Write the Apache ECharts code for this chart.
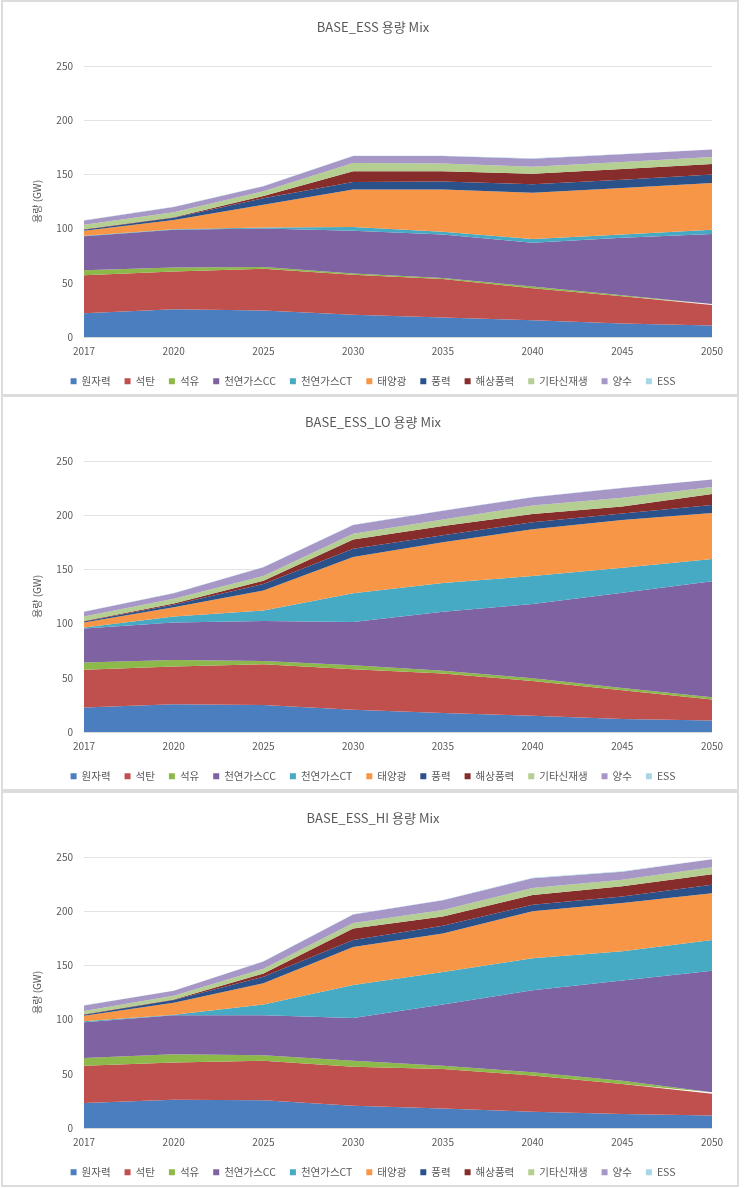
<!DOCTYPE html>
<html>
<head>
<meta charset="utf-8">
<script src="https://cdn.jsdelivr.net/npm/echarts@6/dist/echarts.min.js"></script>
<style>
  html, body { margin: 0; padding: 0; background: #ffffff; }
  body { width: 746px; height: 1188px; position: relative; overflow: hidden; }
  .frame { position: absolute; left: 1px; width: 738px; height: 396px; box-sizing: border-box; border: 2px solid #dcdcdc; }
  .chart { position: absolute; left: 0; width: 746px; height: 396px; }
</style>
</head>
<body>
<div class="frame" style="top:0px"></div>
<div class="frame" style="top:395px"></div>
<div class="frame" style="top:791px"></div>
<div id="c0" class="chart" style="top:0px"></div>
<div id="c1" class="chart" style="top:395px"></div>
<div id="c2" class="chart" style="top:791px"></div>
<script>
const years = ['2017', '2020', '2025', '2030', '2035', '2040', '2045', '2050'];
const seriesNames = ['원자력', '석탄', '석유', '천연가스CC', '천연가스CT', '태양광', '풍력', '해상풍력', '기타신재생', '양수', 'ESS'];
const titles = ['BASE_ESS 용량 Mix', 'BASE_ESS_LO 용량 Mix', 'BASE_ESS_HI 용량 Mix'];
const yTicks = [0, 50, 100, 150, 200, 250];
const colors = ['#4A7EBF', '#C0504D', '#8DB84A', '#7F62A1', '#46AAC5', '#F79646', '#2A5189', '#862C2B', '#B5CE91', '#A797C6', '#A9D6E5'];

// BASE_ESS (GW, per source)
const ess_nuclear  = [22, 25.5, 24.5, 20.5, 18, 15.5, 12.5, 10.5];
const ess_coal     = [35, 35, 38.5, 37, 35.5, 29.5, 25, 19];
const ess_oil      = [4.5, 3.5, 1.5, 1, 1, 1.5, 1, 1];
const ess_gasCC    = [31.5, 35, 35.5, 39.5, 40, 40.5, 53, 64.5];
const ess_gasCT    = [0.5, 0.5, 1, 3.5, 2.5, 3.5, 3, 4];
const ess_solar    = [4.5, 8.5, 21, 34.5, 39, 42.5, 43, 43];
const ess_wind     = [1, 2, 6, 7, 7.5, 8, 7.5, 8];
const ess_offshore = [0.5, 0.5, 2, 10, 9.5, 9.5, 10, 9.5];
const ess_otherRE  = [4, 4.5, 4.5, 7.5, 7, 6.5, 6.5, 6.5];
const ess_pumped   = [4, 5, 4.5, 6.5, 7, 7.5, 7, 7];
const ess_ess      = [0.2, 0.2, 0.3, 0.3, 0.3, 0.3, 0.3, 0.3];

// BASE_ESS_LO
const lo_nuclear  = [22.5, 25.5, 25, 20.5, 17.5, 15, 12, 10.5];
const lo_coal     = [35, 35, 37.5, 37.5, 36.5, 32, 26.5, 19.5];
const lo_oil      = [6.5, 6, 3, 3.5, 2.5, 2.5, 2, 2];
const lo_gasCC    = [31.5, 34.5, 37, 40, 54.5, 68.5, 88, 107];
const lo_gasCT    = [1, 5.5, 9.5, 26.5, 26.5, 26, 23, 20.5];
const lo_solar    = [4.5, 8.5, 18.5, 33.5, 37.5, 43, 44, 42.5];
const lo_wind     = [1, 2.5, 6, 7.5, 6.5, 6.5, 6, 7.5];
const lo_offshore = [0.5, 1, 3, 8.5, 8.5, 7.5, 6.5, 10];
const lo_otherRE  = [4, 4.5, 4.5, 5.5, 6, 8, 8, 6.5];
const lo_pumped   = [4.5, 5, 8, 8, 8, 7.5, 9, 7];
const lo_ess      = [0.2, 0.2, 0.3, 0.3, 0.3, 0.3, 0.3, 0.3];

// BASE_ESS_HI
const hi_nuclear  = [23, 26, 25.5, 20.5, 18, 15, 13, 11.5];
const hi_coal     = [34.5, 34.5, 36.5, 36, 36.5, 33.5, 27.5, 20];
const hi_oil      = [7, 7.5, 5, 5.5, 3, 3, 3, 1.5];
const hi_gasCC    = [33, 36, 37, 39.5, 56.5, 75.5, 92.5, 112];
const hi_gasCT    = [1, 0.5, 10, 30.5, 30, 29.5, 27, 28.5];
const hi_solar    = [5, 11, 19.5, 35, 35.5, 43.5, 44.5, 43];
const hi_wind     = [1, 2.5, 6, 6.5, 7, 6, 6, 8];
const hi_offshore = [0.5, 0.5, 3, 10.5, 8.5, 9, 9.5, 9.5];
const hi_otherRE  = [3, 3.5, 4.5, 5, 6, 6.5, 6, 6.5];
const hi_pumped   = [5, 4.5, 6.5, 8, 9, 9, 7.5, 7.5];
const hi_ess      = [0.2, 0.2, 0.3, 0.3, 0.3, 0.3, 0.3, 0.3];

const panels = [
  [ess_nuclear, ess_coal, ess_oil, ess_gasCC, ess_gasCT, ess_solar, ess_wind, ess_offshore, ess_otherRE, ess_pumped, ess_ess],
  [lo_nuclear, lo_coal, lo_oil, lo_gasCC, lo_gasCT, lo_solar, lo_wind, lo_offshore, lo_otherRE, lo_pumped, lo_ess],
  [hi_nuclear, hi_coal, hi_oil, hi_gasCC, hi_gasCT, hi_solar, hi_wind, hi_offshore, hi_otherRE, hi_pumped, hi_ess]
];

const FONT = '"Noto Sans CJK KR", "Noto Sans", sans-serif';
const TXT = '#595959';

panels.forEach(function (data, p) {
  const chart = echarts.init(document.getElementById('c' + p), null, { renderer: 'canvas' });
  chart.setOption({
    animation: false,
    backgroundColor: 'transparent',
    color: colors,
    textStyle: { fontFamily: FONT },
    title: {
      text: titles[p], left: 'center', top: 16,
      textStyle: { fontFamily: FONT, fontSize: 13, fontWeight: 'normal', color: TXT }
    },
    legend: {
      data: seriesNames, left: 'center', top: 371,
      icon: 'rect', itemWidth: 6, itemHeight: 6, itemGap: 14,
      textStyle: { fontFamily: FONT, fontSize: 10.5, color: TXT }
    },
    grid: { left: 84, right: 34, top: 66, height: 271 },
    xAxis: {
      type: 'category', boundaryGap: false, data: years,
      axisLine: { lineStyle: { color: '#d9d9d9' } },
      axisTick: { show: false },
      axisLabel: { color: TXT, fontSize: 10, margin: 9, fontFamily: FONT }
    },
    yAxis: {
      type: 'value', min: yTicks[0], max: yTicks[yTicks.length - 1], interval: 50,
      name: '용량 (GW)', nameLocation: 'middle', nameGap: 42,
      nameTextStyle: { color: TXT, fontSize: 10, fontFamily: FONT },
      axisLine: { show: false }, axisTick: { show: false },
      axisLabel: { color: TXT, fontSize: 10, margin: 11, fontFamily: FONT },
      splitLine: { lineStyle: { color: '#e3e3e3' } }
    },
    series: seriesNames.map(function (name, i) {
      return {
        name: name, type: 'line', stack: 'total', data: data[i],
        symbol: 'none', showSymbol: false,
        lineStyle: { width: 0 },
        areaStyle: { color: colors[i], opacity: 1 },
        emphasis: { disabled: true }
      };
    })
  });
});
</script>
</body>
</html>
